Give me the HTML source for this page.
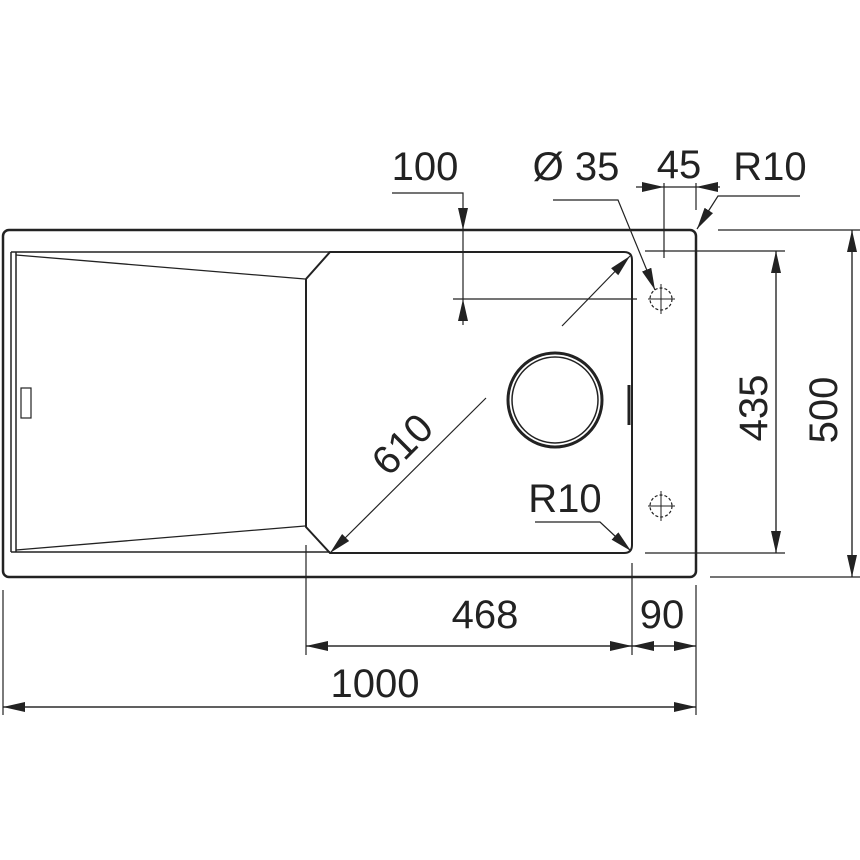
<!DOCTYPE html>
<html><head><style>html,body{margin:0;padding:0;background:#fff}svg{display:block}</style></head><body>
<svg width="860" height="860" viewBox="0 0 860 860" xmlns="http://www.w3.org/2000/svg" font-family="Liberation Sans, sans-serif" font-size="40" fill="#222">
<defs>
<marker id="a" viewBox="0 0 22 10" refX="22" refY="5" markerWidth="22" markerHeight="10" markerUnits="userSpaceOnUse" orient="auto"><path d="M0,0 L22,5 L0,10 Z" fill="#222"/></marker>
</defs>
<g fill="none" stroke="#222">
<rect x="3" y="230" width="693" height="347" rx="6" stroke-width="2.5"/>
<path d="M11,252 L330,252 M11,552 L330,552 M11,252 L11,552 M16,252 L16,552" stroke-width="1.5"/>
<path d="M16,255 L305,279 M16,550 L305,526" stroke-width="1.3"/>
<rect x="21" y="388" width="10" height="30" stroke-width="1.2"/>
<path d="M330,252 L624,252 Q632,252 632,260 L632,545 Q632,553 624,553 L330,553 L306,527 L306,279 Z" stroke-width="2"/>
<path d="M629,385 L629,425" stroke-width="3"/>
<circle cx="555" cy="400" r="47" stroke-width="3"/>
<circle cx="555" cy="400" r="43" stroke-width="1.5"/>
<circle cx="661" cy="299" r="11" stroke-width="1.2" stroke-dasharray="3,2"/>
<path d="M648,299 L675,299 M661,284 L661,314" stroke-width="1"/>
<circle cx="661" cy="506" r="11" stroke-width="1.2" stroke-dasharray="3,2"/>
<path d="M648,506 L675,506 M661,491 L661,521" stroke-width="1"/>
<g stroke-width="1.2">
<path d="M3,590 L3,715 M696,585 L696,715 M306,545 L306,655 M632,563 L632,655"/>
<path d="M3,707 L696,707" marker-end="url(#a)"/>
<path d="M696,707 L3,707" marker-end="url(#a)"/>
<path d="M306,646 L632,646" marker-end="url(#a)"/>
<path d="M632,646 L306,646" marker-end="url(#a)"/>
<path d="M632,646 L696,646" marker-end="url(#a)"/>
<path d="M696,646 L632,646" marker-end="url(#a)"/>
<path d="M718,230 L860,230 M710,577 L860,577"/>
<path d="M852,577 L852,230" marker-end="url(#a)"/>
<path d="M852,230 L852,577" marker-end="url(#a)"/>
<path d="M645,251 L785,251 M645,553 L785,553"/>
<path d="M776,553 L776,251" marker-end="url(#a)"/>
<path d="M776,251 L776,553" marker-end="url(#a)"/>
<path d="M392,193 L463,193 L463,230" marker-end="url(#a)"/>
<path d="M463,230 L463,299"/>
<path d="M453,299 L637,299"/>
<path d="M463,325 L463,299" marker-end="url(#a)"/>
<path d="M664,183 L664,258 M696,183 L696,210"/>
<path d="M636,187 L664,187" marker-end="url(#a)"/>
<path d="M720,187 L696,187" marker-end="url(#a)"/>
<path d="M664,187 L696,187"/>
<path d="M800,196 L718,196 L697,229" marker-end="url(#a)"/>
<path d="M553,200 L618,200 L655,290" marker-end="url(#a)"/>
<path d="M535,522 L600,522 L631,551" marker-end="url(#a)"/>
<path d="M486,398 L330,553" marker-end="url(#a)"/>
<path d="M562,326 L630,256" marker-end="url(#a)"/>
</g>
</g>
<g stroke="none">
<text x="375" y="697" text-anchor="middle">1000</text>
<text x="485" y="628" text-anchor="middle">468</text>
<text x="662" y="628" text-anchor="middle">90</text>
<text x="425" y="180" text-anchor="middle">100</text>
<text x="576" y="180" text-anchor="middle">Ø 35</text>
<text x="679" y="178" text-anchor="middle">45</text>
<text x="770" y="180" text-anchor="middle">R10</text>
<text x="565" y="512" text-anchor="middle">R10</text>
<text transform="translate(767,408) rotate(-90)" text-anchor="middle">435</text>
<text transform="translate(837,410) rotate(-90)" text-anchor="middle">500</text>
<text transform="translate(412,454) rotate(-45)" text-anchor="middle">610</text>
</g>
</svg>
</body></html>
